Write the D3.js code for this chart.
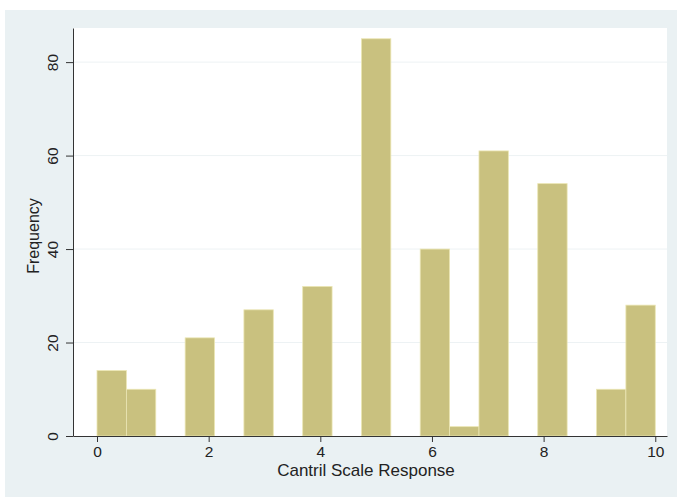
<!DOCTYPE html>
<html>
<head>
<meta charset="utf-8">
<script src="https://cdn.jsdelivr.net/npm/d3@7"></script>
<style>
  body { margin: 0; background: #fff; }
  text { font-family: "Liberation Sans", Arial, sans-serif; fill: #222; }
</style>
</head>
<body>
<div id="chart"></div>
<script>
// histogram bins: 19 equal bins from 0 to 10
var binStart = 0, binEnd = 10, binCount = 19;
var counts = [14, 10, 0, 21, 0, 27, 0, 32, 0, 85, 0, 40, 2, 61, 0, 54, 0, 10, 28];
var xTicks = [0, 2, 4, 6, 8, 10];
var yTicks = [0, 20, 40, 60, 80];
var yGrid = [20, 40, 60, 80];
var xTitle = "Cantril Scale Response";
var yTitle = "Frequency";

var W = 677, H = 497;
var margin = {top: 28, right: 10, bottom: 61, left: 73},
    width = W - margin.left - margin.right,
    height = H - margin.top - margin.bottom;

var svg = d3.select("#chart")
  .append("svg")
    .attr("width", W)
    .attr("height", H);

// outer graph region
svg.append("rect")
    .attr("x", 5).attr("y", 10)
    .attr("width", W - 5).attr("height", H - 10)
    .style("fill", "#eaf1f3");

var g = svg.append("g")
    .attr("transform", "translate(" + margin.left + "," + margin.top + ")");

// plot region
g.append("rect")
    .attr("width", width).attr("height", height)
    .style("fill", "#ffffff");

var x = d3.scaleLinear()
    .domain([-0.43, 10.21])
    .range([0, width]);

var y = d3.scaleLinear()
    .domain([0, 87.3])
    .range([height, 0]);

// grid lines
g.selectAll(".grid")
    .data(yGrid)
  .enter().append("line")
    .attr("x1", 0).attr("x2", width)
    .attr("y1", function(d) { return y(d); })
    .attr("y2", function(d) { return y(d); })
    .style("stroke", "#edf2f4")
    .style("stroke-width", 1);

// bars
var bw = (binEnd - binStart) / binCount;
var bins = counts.map(function(c, i) {
  return {x0: binStart + i * bw, x1: binStart + (i + 1) * bw, n: c};
}).filter(function(d) { return d.n > 0; });

g.selectAll(".bar")
    .data(bins)
  .enter().append("rect")
    .attr("x", function(d) { return x(d.x0); })
    .attr("y", function(d) { return y(d.n); })
    .attr("width", function(d) { return x(d.x1) - x(d.x0); })
    .attr("height", function(d) { return y(0) - y(d.n); })
    .style("fill", "#c9c17f")
    .style("stroke", "#ebe6b4")
    .style("stroke-width", 0.8);

// axes
var xAxis = g.append("g")
    .attr("transform", "translate(0," + height + ")")
    .call(d3.axisBottom(x).tickValues(xTicks).tickSize(6).tickPadding(4).tickSizeOuter(0));
xAxis.select(".domain").style("stroke", "#333");
xAxis.selectAll(".tick line").style("stroke", "#333");
xAxis.selectAll("text").style("font-size", "15.5px").style("fill", "#222");

var yAxis = g.append("g")
    .call(d3.axisLeft(y).tickValues(yTicks).tickSize(7).tickSizeOuter(0));
yAxis.select(".domain").style("stroke", "#333");
yAxis.selectAll(".tick line").style("stroke", "#333");
yAxis.selectAll("text")
    .style("font-size", "15.5px")
    .style("fill", "#222")
    .attr("x", null).attr("dy", null)
    .attr("text-anchor", "middle")
    .attr("transform", "translate(-15,0) rotate(-90)")
    .attr("y", 0);

// axis titles
svg.append("text")
    .attr("x", margin.left + width / 2 - 4)
    .attr("y", 476)
    .attr("text-anchor", "middle")
    .style("font-size", "17px")
    .text(xTitle);

svg.append("text")
    .attr("transform", "translate(39," + (margin.top + height / 2 + 4) + ") rotate(-90)")
    .attr("text-anchor", "middle")
    .style("font-size", "16px")
    .text(yTitle);
</script>
</body>
</html>
